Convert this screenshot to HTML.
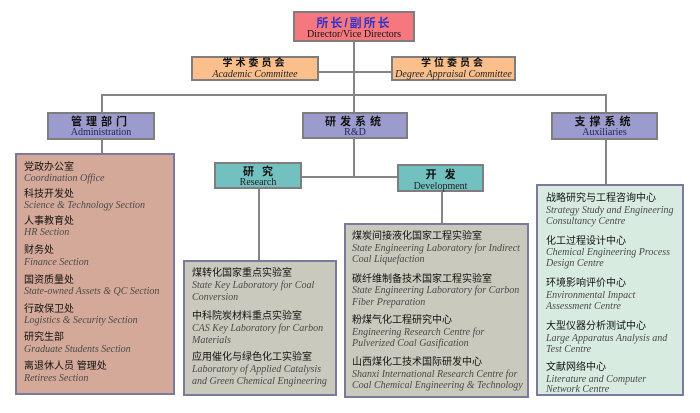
<!DOCTYPE html>
<html><head><meta charset="utf-8">
<style>
html,body{margin:0;padding:0;background:#fff;}
body{width:700px;height:413px;position:relative;overflow:hidden;}
.b{position:absolute;box-sizing:border-box;border:2px solid #7e7e7e;}
.l{position:absolute;background:#858585;}
.t{position:absolute;white-space:nowrap;line-height:12px;height:12px;}
.zh{font-family:"Liberation Sans","Noto Sans CJK SC",sans-serif;font-size:10px;color:#111;}
.en{font-family:"Liberation Serif",serif;font-style:italic;font-size:10px;color:#4a4a4a;}
.ct{position:absolute;left:0;right:0;text-align:center;white-space:nowrap;line-height:12px;}
.hz{font-family:"Liberation Sans","Noto Sans CJK SC",sans-serif;font-weight:bold;font-size:11px;color:#111;}
.he{font-family:"Liberation Serif",serif;font-size:10px;color:#222;}
.lst{border-color:#7a7a9c;}
</style></head><body>

<!-- connector lines -->
<div class="l" style="left:353px;top:42px;width:2px;height:70px;"></div>
<div class="l" style="left:319px;top:71px;width:72px;height:2px;"></div>
<div class="l" style="left:101px;top:94px;width:506px;height:2px;"></div>
<div class="l" style="left:101px;top:94px;width:2px;height:18px;"></div>
<div class="l" style="left:605px;top:94px;width:2px;height:18px;"></div>
<div class="l" style="left:101px;top:140px;width:2px;height:13px;"></div>
<div class="l" style="left:353px;top:139px;width:2px;height:39px;"></div>
<div class="l" style="left:302px;top:176px;width:95px;height:2px;"></div>
<div class="l" style="left:258px;top:189px;width:2px;height:71px;"></div>
<div class="l" style="left:441px;top:192px;width:2px;height:31px;"></div>
<div class="l" style="left:605px;top:140px;width:2px;height:44px;"></div>

<!-- Director -->
<div class="b" style="left:293px;top:11px;width:122px;height:31px;background:#f5787f;">
  <div class="ct" style="top:4px;font-family:'Liberation Sans','Noto Sans CJK SC',sans-serif;font-size:12px;font-weight:bold;color:#3434c4;letter-spacing:2px;">所长/副所长</div>
  <div class="ct he" style="top:16px;color:#111;">Director/Vice Directors</div>
</div>

<!-- Committees -->
<div class="b" style="left:191px;top:56px;width:128px;height:25px;background:#fbbf8c;">
  <div class="ct hz" style="top:0px;font-size:10px;letter-spacing:3px;">学术委员会</div>
  <div class="ct he" style="top:11px;font-style:italic;">Academic Committee</div>
</div>
<div class="b" style="left:391px;top:56px;width:125px;height:25px;background:#fbbf8c;">
  <div class="ct hz" style="top:0px;font-size:10px;letter-spacing:3px;">学位委员会</div>
  <div class="ct he" style="top:11px;font-style:italic;">Degree Appraisal Committee</div>
</div>

<!-- Level 2 -->
<div class="b" style="left:47px;top:112px;width:108px;height:28px;background:#9b9bcd;">
  <div class="ct hz" style="top:2px;letter-spacing:4px;">管理部门</div>
  <div class="ct he" style="top:13px;color:#23235e;">Administration</div>
</div>
<div class="b" style="left:302px;top:112px;width:106px;height:27px;background:#9b9bcd;">
  <div class="ct hz" style="top:2px;letter-spacing:4px;">研发系统</div>
  <div class="ct he" style="top:13px;color:#23235e;">R&amp;D</div>
</div>
<div class="b" style="left:551px;top:112px;width:107px;height:28px;background:#9b9bcd;">
  <div class="ct hz" style="top:2px;letter-spacing:4px;">支撑系统</div>
  <div class="ct he" style="top:13px;color:#23235e;">Auxiliaries</div>
</div>

<!-- Research / Development -->
<div class="b" style="left:214px;top:162px;width:88px;height:27px;background:#72c0bf;">
  <div class="ct hz" style="top:2px;letter-spacing:8px;padding-left:8px;">研究</div>
  <div class="ct he" style="top:13px;">Research</div>
</div>
<div class="b" style="left:397px;top:164px;width:87px;height:28px;background:#72c0bf;">
  <div class="ct hz" style="top:3px;letter-spacing:8px;padding-left:8px;">开发</div>
  <div class="ct he" style="top:15px;">Development</div>
</div>

<!-- List boxes -->
<div class="b lst" style="left:15px;top:153px;width:160px;height:242px;background:#d5a999;"></div>
<div class="b lst" style="left:183px;top:260px;width:154px;height:136px;background:#c9c9bd;"></div>
<div class="b lst" style="left:344px;top:223px;width:185px;height:175px;background:#c9c9bd;"></div>
<div class="b lst" style="left:536px;top:184px;width:148px;height:212px;background:#d7ebe1;"></div>

<!-- Admin list -->
<div class="t zh" style="left:24px;top:162px;">党政办公室</div>
<div class="t en" style="left:24px;top:173px;">Coordination Office</div>
<div class="t zh" style="left:24px;top:189px;">科技开发处</div>
<div class="t en" style="left:24px;top:200px;">Science &amp; Technology Section</div>
<div class="t zh" style="left:24px;top:216px;">人事教育处</div>
<div class="t en" style="left:24px;top:227px;">HR Section</div>
<div class="t zh" style="left:24px;top:245px;">财务处</div>
<div class="t en" style="left:24px;top:257px;">Finance Section</div>
<div class="t zh" style="left:24px;top:275px;">国资质量处</div>
<div class="t en" style="left:24px;top:286px;">State-owned Assets &amp; QC Section</div>
<div class="t zh" style="left:24px;top:304px;">行政保卫处</div>
<div class="t en" style="left:24px;top:315px;">Logistics &amp; Security Section</div>
<div class="t zh" style="left:24px;top:332px;">研究生部</div>
<div class="t en" style="left:24px;top:344px;">Graduate Students Section</div>
<div class="t zh" style="left:24px;top:361px;">离退休人员 管理处</div>
<div class="t en" style="left:24px;top:373px;">Retirees Section</div>

<!-- Research list -->
<div class="t zh" style="left:192px;top:268px;">煤转化国家重点实验室</div>
<div class="t en" style="left:192px;top:280px;">State Key Laboratory for Coal</div>
<div class="t en" style="left:192px;top:292px;">Conversion</div>
<div class="t zh" style="left:192px;top:311px;">中科院炭材料重点实验室</div>
<div class="t en" style="left:192px;top:323px;">CAS Key Laboratory for Carbon</div>
<div class="t en" style="left:192px;top:335px;">Materials</div>
<div class="t zh" style="left:192px;top:352px;">应用催化与绿色化工实验室</div>
<div class="t en" style="left:192px;top:364px;">Laboratory of Applied Catalysis</div>
<div class="t en" style="left:192px;top:376px;">and Green Chemical Engineering</div>

<!-- Development list -->
<div class="t zh" style="left:352px;top:231px;">煤炭间接液化国家工程实验室</div>
<div class="t en" style="left:352px;top:243px;">State Engineering Laboratory for Indirect</div>
<div class="t en" style="left:352px;top:254px;">Coal Liquefaction</div>
<div class="t zh" style="left:352px;top:274px;">碳纤维制备技术国家工程实验室</div>
<div class="t en" style="left:352px;top:285px;">State Engineering Laboratory for Carbon</div>
<div class="t en" style="left:352px;top:297px;">Fiber Preparation</div>
<div class="t zh" style="left:352px;top:315px;">粉煤气化工程研究中心</div>
<div class="t en" style="left:352px;top:327px;">Engineering Research Centre for</div>
<div class="t en" style="left:352px;top:338px;">Pulverized Coal Gasification</div>
<div class="t zh" style="left:352px;top:357px;">山西煤化工技术国际研发中心</div>
<div class="t en" style="left:352px;top:369px;">Shanxi International Research Centre for</div>
<div class="t en" style="left:352px;top:380px;">Coal Chemical Engineering &amp; Technology</div>

<!-- Aux list -->
<div class="t zh" style="left:546px;top:193px;">战略研究与工程咨询中心</div>
<div class="t en" style="left:546px;top:205px;">Strategy Study and Engineering</div>
<div class="t en" style="left:546px;top:216px;">Consultancy Centre</div>
<div class="t zh" style="left:546px;top:236px;">化工过程设计中心</div>
<div class="t en" style="left:546px;top:247px;">Chemical Engineering Process</div>
<div class="t en" style="left:546px;top:258px;">Design Centre</div>
<div class="t zh" style="left:546px;top:278px;">环境影响评价中心</div>
<div class="t en" style="left:546px;top:290px;">Environmental Impact</div>
<div class="t en" style="left:546px;top:301px;">Assessment Centre</div>
<div class="t zh" style="left:546px;top:321px;">大型仪器分析测试中心</div>
<div class="t en" style="left:546px;top:333px;">Large Apparatus Analysis and</div>
<div class="t en" style="left:546px;top:344px;">Test Centre</div>
<div class="t zh" style="left:546px;top:362px;">文献网络中心</div>
<div class="t en" style="left:546px;top:374px;">Literature and Computer</div>
<div class="t en" style="left:546px;top:384px;">Network Centre</div>

</body></html>
